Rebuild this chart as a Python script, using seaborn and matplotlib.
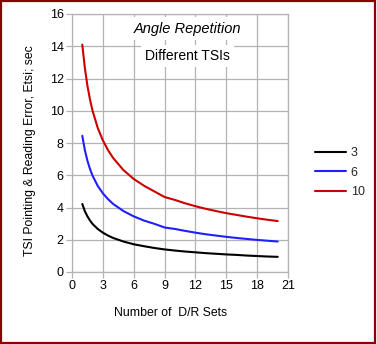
import matplotlib
matplotlib.use("Agg")
import matplotlib.pyplot as plt
import seaborn as sns
import pandas as pd
from matplotlib.patches import Rectangle

# ---- data ----
sets = [1, 1.25, 1.5, 1.75, 2, 2.5, 3, 3.5, 4, 5, 6, 7, 8, 9, 10, 11, 12, 13, 14, 15, 16, 17, 18, 19, 20]
tsi_3 = [4.22, 3.77, 3.45, 3.19, 2.98, 2.67, 2.44, 2.26, 2.11, 1.89, 1.72, 1.60, 1.49, 1.40, 1.33, 1.27, 1.22, 1.17, 1.13, 1.09, 1.06, 1.02, 0.99, 0.96, 0.94]
tsi_6 = [8.45, 7.56, 6.90, 6.39, 5.97, 5.34, 4.88, 4.52, 4.22, 3.78, 3.45, 3.19, 2.99, 2.76, 2.67, 2.55, 2.44, 2.34, 2.26, 2.18, 2.11, 2.05, 1.99, 1.94, 1.89]
tsi_10 = [14.1, 12.65, 11.55, 10.69, 10.0, 8.94, 8.16, 7.56, 7.07, 6.32, 5.77, 5.35, 5.00, 4.65, 4.47, 4.26, 4.08, 3.92, 3.78, 3.65, 3.54, 3.43, 3.33, 3.24, 3.16]
series_labels = ["3", "6", "10"]
colors = ["#000000", "#1f1fff", "#cc0000"]
x_ticks = [0, 3, 6, 9, 12, 15, 18, 21]
y_ticks = [0, 2, 4, 6, 8, 10, 12, 14, 16]

df = pd.concat([
    pd.DataFrame({"sets": sets, "err": vals, "TSI": lab})
    for vals, lab in zip([tsi_3, tsi_6, tsi_10], series_labels)
])

sns.set_theme(style="white")
plt.rcParams["font.family"] = ["Liberation Sans", "DejaVu Sans"]

fig = plt.figure(figsize=(3.77, 3.44), dpi=100)
ax = fig.add_axes([72 / 377, 1 - 272 / 344, 216 / 377, 258 / 344])

sns.lineplot(data=df, x="sets", y="err", hue="TSI", hue_order=series_labels,
             palette=colors, linewidth=1.5, ax=ax, legend=True, sort=False)

ax.set_xlim(0, 21)
ax.set_ylim(0, 16)
ax.set_xticks(x_ticks)
ax.set_yticks(y_ticks)
ax.grid(True, color="#b3b3b3", linewidth=0.9)
ax.set_axisbelow(True)
for s in ax.spines.values():
    s.set_color("#b3b3b3")
    s.set_linewidth(0.9)
ax.tick_params(axis="both", which="both", direction="out", length=4, width=0.9,
               color="#b3b3b3", labelsize=9, labelcolor="#000000", pad=2,
               bottom=True, left=True)
ax.set_xlabel("")
ax.set_ylabel("")

fig.text(171 / 377, 1 - 313 / 344, "Number of  D/R Sets", ha="center", va="center",
         fontsize=8.8, color="#000000")
fig.text(30 / 377, 1 - 151 / 344, "TSI Pointing & Reading Error, Etsi; sec", ha="center",
         va="center", rotation=90, fontsize=8.8, color="#000000")

ax.text(11.2, 15.1, "Angle Repetition", ha="center", va="center", fontsize=10.5,
        style="italic", color="#000000",
        bbox=dict(facecolor="white", edgecolor="none", pad=3))
ax.text(11.2, 13.4, "Different TSIs", ha="center", va="center", fontsize=10,
        color="#000000",
        bbox=dict(facecolor="white", edgecolor="none", pad=3))

leg = ax.get_legend()
leg.remove()
handles, labels = ax.get_legend_handles_labels()
fig.legend(handles, labels, loc="upper left", bbox_to_anchor=(310 / 377, 1 - 142 / 344),
           frameon=False, fontsize=9, handlelength=2.5, handletextpad=0.35,
           labelspacing=0.6, borderaxespad=0)

fig.patches.append(Rectangle((0.002, 0.003), 0.993, 0.994, transform=fig.transFigure,
                             fill=False, edgecolor="#8b0000", linewidth=1.6))

fig.savefig("out.png", dpi=100, facecolor="white")
